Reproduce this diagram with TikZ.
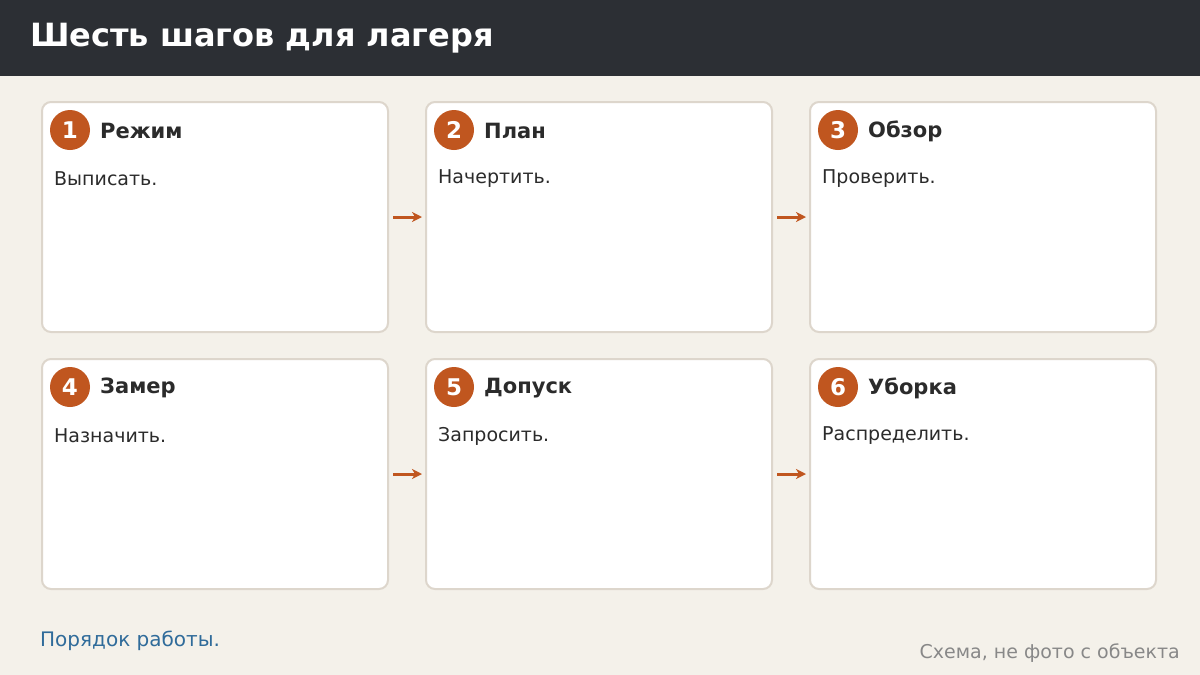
\documentclass[tikz,border=0pt]{standalone}
\usepackage{fontspec}
\setmainfont{DejaVu Sans}
\usepackage{xcolor}
\usepackage{tikz}
\usetikzlibrary{positioning,calc,arrows.meta}

\definecolor{pagebg}{HTML}{F4F1EA}
\definecolor{headbg}{HTML}{2C2F34}
\definecolor{stepor}{HTML}{C0561F}
\definecolor{cardln}{HTML}{DDD6CC}
\definecolor{inkdark}{HTML}{2B2B2B}
\definecolor{linkblue}{HTML}{2F6B9A}
\definecolor{notegray}{HTML}{888888}

\begin{document}
\begin{tikzpicture}[x=1pt,y=-1pt,
        card/.style={draw=cardln, line width=2pt, fill=white, rounded corners=9pt,
            minimum width=346pt, minimum height=230pt, anchor=north west,
            inner sep=0pt, outer sep=0pt},
        badge/.style={circle, fill=stepor, minimum size=40pt, inner sep=0pt,
            text=white, font=\fontsize{23}{27}\selectfont\bfseries},
        steptitle/.style={anchor=west, text=inkdark, inner sep=0pt,
            font=\fontsize{21}{25}\selectfont\bfseries},
        stepbody/.style={anchor=west, text=inkdark, inner sep=0pt,
            font=\fontsize{19}{23}\selectfont},
        flow/.style={draw=stepor, line width=3pt, -{Stealth[length=10pt,width=10pt,inset=3pt]},
            shorten <=5pt, shorten >=4pt}]
        \useasboundingbox (0,0) rectangle (1200,675);
        \fill[pagebg] (0,0) rectangle (1200,675);
        \fill[headbg] (0,0) rectangle (1200,76);
        \node[anchor=west, text=white, inner sep=0pt, font=\fontsize{32}{38}\selectfont\bfseries]
            (heading) at (30,38) {Шесть шагов для лагеря};

        \foreach \i/\cx/\cy/\ttl/\txt in {
            1/42/102/Режим/Выписать.,
            2/426/102/План/Начертить.,
            3/810/102/Обзор/Проверить.,
            4/42/359/Замер/Назначить.,
            5/426/359/Допуск/Запросить.,
            6/810/359/Уборка/Распределить.} {
            \node[card] (c\i) at (\cx,\cy) {};
            \node[badge] (b\i) at ($(c\i.north west)+(28,28)$) {\i};
            \node[steptitle] (t\i) at ($(c\i.north west)+(58,29)$) {\ttl};
            \node[stepbody] (d\i) at ($(c\i.north west)+(12,77)$) {\txt};
        }

        \draw[flow] (c1.east) -- (c2.west);
        \draw[flow] (c2.east) -- (c3.west);
        \draw[flow] (c4.east) -- (c5.west);
        \draw[flow] (c5.east) -- (c6.west);

        \node[anchor=west, text=linkblue, inner sep=0pt, font=\fontsize{20}{24}\selectfont]
            (foot) at (40,641) {Порядок работы.};
        \node[anchor=east, text=notegray, inner sep=0pt, font=\fontsize{19}{23}\selectfont]
            (note) at (1180,653) {Схема, не фото с объекта};
\end{tikzpicture}
\end{document}
